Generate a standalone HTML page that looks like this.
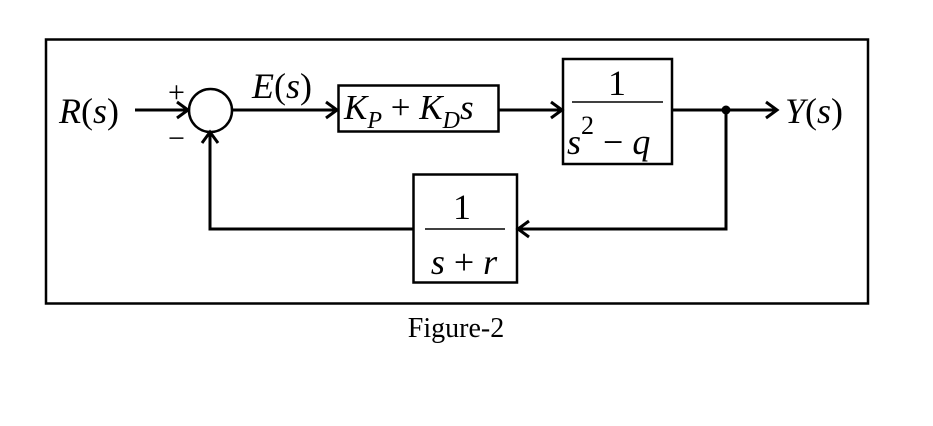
<!DOCTYPE html>
<html><head><meta charset="utf-8"><style>
html,body{margin:0;padding:0;background:#fff;}
svg{display:block;}
text{font-family:"Liberation Serif",serif;fill:#000;}
.i{font-style:italic;}
</style></head><body>
<svg width="933" height="426" viewBox="0 0 933 426" xmlns="http://www.w3.org/2000/svg">
<rect x="46" y="39.5" width="822" height="264" fill="none" stroke="#000" stroke-width="2.5"/>
<g stroke="#000" stroke-width="3" fill="none">
<circle cx="210.5" cy="110.5" r="21.5" stroke-width="2.5"/>
<line x1="135" y1="110" x2="187" y2="110"/>
<polyline points="177,102 188,110 177,118"/>
<line x1="232" y1="110" x2="336" y2="110"/>
<polyline points="326,102 337,110 326,118"/>
<rect x="338.5" y="85.5" width="160" height="46" stroke-width="2.5"/>
<line x1="498" y1="110" x2="561" y2="110"/>
<polyline points="551,102 562,110 551,118"/>
<rect x="563" y="59" width="109" height="105" stroke-width="2.5"/>
<line x1="672" y1="110" x2="776" y2="110"/>
<polyline points="766,102 777,110 766,118"/>
<polyline points="726,110 726,229 519,229"/>
<polyline points="529,221 518,229 529,237"/>
<rect x="413.5" y="174.5" width="103.5" height="108" stroke-width="2.5"/>
<polyline points="413,229 210,229 210,133"/>
<polyline points="202,143 210,132 218,143"/>
</g>
<circle cx="726" cy="110" r="4.5" fill="#000"/>
<line x1="572" y1="102" x2="663" y2="102" stroke="#000" stroke-width="1.5"/>
<line x1="425" y1="229" x2="505" y2="229" stroke="#000" stroke-width="1.5"/>
<text x="59" y="123" font-size="36"><tspan class="i">R</tspan>(<tspan class="i">s</tspan>)</text>
<text x="252" y="98" font-size="36"><tspan class="i">E</tspan>(<tspan class="i">s</tspan>)</text>
<text x="168" y="102" font-size="30">+</text>
<text x="168" y="148" font-size="30">−</text>
<text x="344" y="119" font-size="35"><tspan class="i">K</tspan><tspan class="i" font-size="24" dy="9">P</tspan><tspan dy="-9"> + </tspan><tspan class="i">K</tspan><tspan class="i" font-size="24" dy="9">D</tspan><tspan class="i" dy="-9">s</tspan></text>
<text x="617" y="95" font-size="36" text-anchor="middle">1</text>
<text x="567" y="154" font-size="36"><tspan class="i">s</tspan><tspan font-size="26" dy="-20">2</tspan><tspan dy="20"> − </tspan><tspan class="i">q</tspan></text>
<text x="462" y="219" font-size="36" text-anchor="middle">1</text>
<text x="464" y="274" font-size="36" text-anchor="middle"><tspan class="i">s</tspan> + <tspan class="i">r</tspan></text>
<text x="785" y="123" font-size="36"><tspan class="i">Y</tspan>(<tspan class="i">s</tspan>)</text>
<text x="456" y="337" font-size="28" text-anchor="middle">Figure-2</text>
</svg>
</body></html>
